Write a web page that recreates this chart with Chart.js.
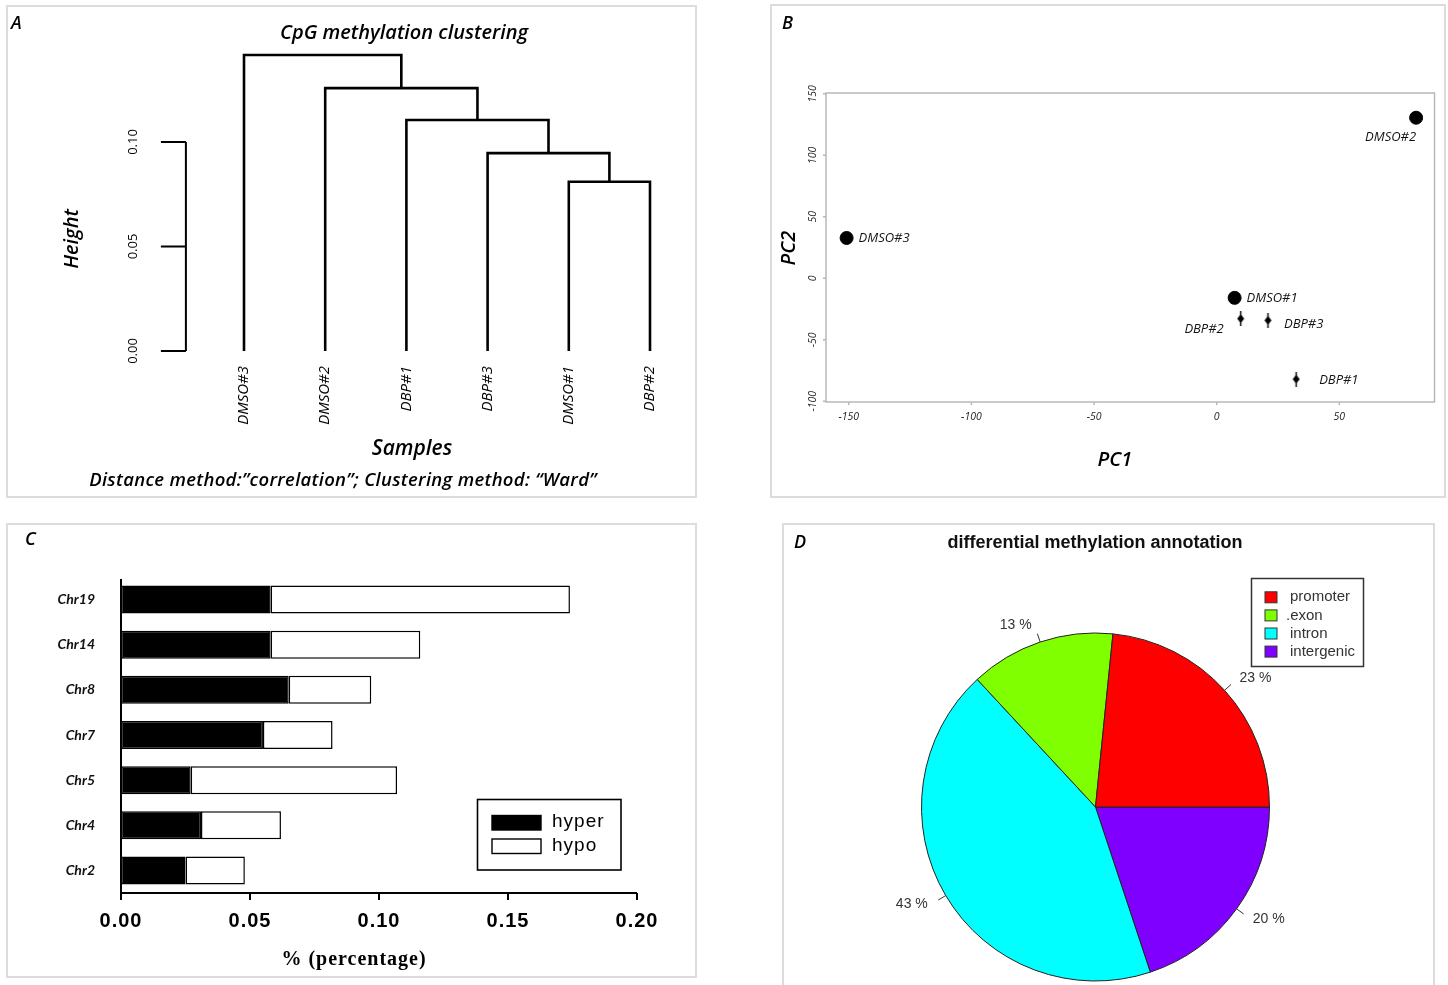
<!DOCTYPE html>
<html>
<head>
<meta charset="utf-8">
<title>DNA methylation figure</title>
<script src="https://cdn.jsdelivr.net/npm/chart.js@4.4.0/dist/chart.umd.min.js"></script>
<style>
  body { margin: 0; background: #fff; width: 1448px; height: 985px; overflow: hidden; position: relative; font-family: "Open Sans", Lato, sans-serif; }
  .panel { position: absolute; border: 2px solid #dcdcdc; box-sizing: border-box; }
  .letter { position: absolute; font-style: italic; font-weight: 600; font-size: 18px; line-height: 1; }
  canvas { position: absolute; }
</style>
</head>
<body>
<div class="panel" style="left:6px;top:5px;width:691px;height:493px"></div>
<div class="panel" style="left:770px;top:4px;width:676px;height:494px"></div>
<div class="panel" style="left:6px;top:523px;width:691px;height:455px"></div>
<div class="panel" style="left:782px;top:523px;width:653px;height:475px"></div>

<canvas id="dendro" width="700" height="500" style="left:0;top:0"></canvas>
<canvas id="pca" width="688" height="500" style="left:760px;top:0"></canvas>
<canvas id="chrBars" width="700" height="470" style="left:0;top:515px"></canvas>
<canvas id="annoPie" width="673" height="470" style="left:775px;top:515px"></canvas>

<div class="letter" style="left:11px;top:13px">A</div>
<div class="letter" style="left:782px;top:13px">B</div>
<div class="letter" style="left:25px;top:529px">C</div>
<div class="letter" style="left:794px;top:532px">D</div>

<script>
// ---------- A: clustering (hclust style merges, negative = leaf) ----------
const samples = ['DMSO#3', 'DMSO#2', 'DBP#1', 'DBP#3', 'DMSO#1', 'DBP#2'];
const mergePairs = [[-5, -6], [-4, 1], [-3, 2], [-2, 3], [-1, 4]];
const mergeHeights = [0.081, 0.0947, 0.1105, 0.1258, 0.1416];
const heightTicks = [0, 0.05, 0.10];

// ---------- B: PCA ----------
const pcaSamples = ['DMSO#1', 'DMSO#2', 'DMSO#3', 'DBP#1', 'DBP#2', 'DBP#3'];
const pc1 = [7.3, 81.3, -150.9, 32.4, 9.8, 20.9];
const pc2 = [-15.9, 130.6, 32.8, -82.0, -32.8, -34.2];
const pc1Ticks = [-150, -100, -50, 0, 50];
const pc2Ticks = [-100, -50, 0, 50, 100, 150];

// ---------- C: chromosomes ----------
const chromosomes = ['Chr19', 'Chr14', 'Chr8', 'Chr7', 'Chr5', 'Chr4', 'Chr2'];
const hyper = [0.058, 0.058, 0.065, 0.055, 0.027, 0.031, 0.025];
const hypo = [0.116, 0.058, 0.032, 0.027, 0.080, 0.031, 0.023];
const pctTicks = [0, 0.05, 0.10, 0.15, 0.20];

// ---------- D: annotation ----------
const regions = ['promoter', '.exon', 'intron', 'intergenic'];
const regionShare = [23.4, 13.5, 43.2, 19.9];
const regionLabels = ['23 %', '13 %', '43 %', '20 %'];

const regionColors = ['#ff0000', '#80ff00', '#00ffff', '#8000ff'];
const CAL = '"Open Sans", Lato, sans-serif';
const LATO = 'Lato, "Open Sans", sans-serif';
const ARIAL = '"Liberation Sans", Arial, sans-serif';

function drawText(ctx, s, x, y, font, o = {}) {
    ctx.save();
    ctx.translate(x, y);
    if (o.rot) ctx.rotate(o.rot);
    ctx.font = font;
    ctx.fillStyle = o.color || '#000';
    ctx.textAlign = o.align || 'center';
    ctx.textBaseline = o.baseline || 'middle';
    if (o.spacing) ctx.letterSpacing = o.spacing;
    ctx.fillText(s, 0, 0);
    ctx.restore();
}

// ===== A =====
const nodes = [];
const childPos = c => c < 0 ? { x: -c, h: 0 } : nodes[c - 1];
const dendroSets = mergePairs.map((pair, i) => {
    const a = childPos(pair[0]), b = childPos(pair[1]), h = mergeHeights[i];
    nodes.push({ x: (a.x + b.x) / 2, h });
    return {
        data: [{ x: a.x, y: a.h }, { x: a.x, y: h }, { x: b.x, y: h }, { x: b.x, y: b.h }],
        showLine: true, borderColor: '#000', borderWidth: 2.6, pointRadius: 0, tension: 0
    };
});

const dendroAxis = {
    id: 'dendroAxis',
    afterDraw(chart) {
        const { ctx, chartArea, scales: { x, y } } = chart;
        const ax = chartArea.left - 17.5;
        ctx.save();
        ctx.strokeStyle = '#000';
        ctx.lineWidth = 2;
        ctx.beginPath();
        ctx.moveTo(ax, y.getPixelForValue(heightTicks[0]));
        ctx.lineTo(ax, y.getPixelForValue(heightTicks[heightTicks.length - 1]));
        heightTicks.forEach(v => {
            const py = y.getPixelForValue(v);
            ctx.moveTo(ax, py); ctx.lineTo(ax - 25, py);
        });
        ctx.stroke();
        ctx.restore();
        heightTicks.forEach(v => drawText(ctx, v.toFixed(2), ax - 53, y.getPixelForValue(v), '13px ' + CAL, { rot: -Math.PI / 2 }));
        samples.forEach((s, i) => drawText(ctx, s, x.getPixelForValue(i + 1), y.getPixelForValue(0) + 15, 'italic 15px ' + CAL, { rot: -Math.PI / 2, align: 'right' }));
        drawText(ctx, 'CpG methylation clustering', 404, 33, 'italic 600 20px ' + CAL);
        drawText(ctx, 'Height', 72, 239, 'italic 600 20px ' + CAL, { rot: -Math.PI / 2 });
        drawText(ctx, 'Samples', 412, 449, 'italic 600 21px ' + CAL);
        drawText(ctx, 'Distance method:\u201dcorrelation\u201d; Clustering method: \u201cWard\u201d', 343, 481, 'italic 600 18.5px ' + CAL, { spacing: '0.3px' });
    }
};

new Chart(document.getElementById('dendro'), {
    type: 'scatter',
    data: { datasets: dendroSets },
    options: {
        responsive: false, animation: false,
        layout: { padding: { left: 203.4, right: 9.4, top: 37.5, bottom: 149 } },
        plugins: { legend: { display: false }, tooltip: { enabled: false } },
        scales: {
            x: { type: 'linear', min: 0.5, max: 6.5, display: false },
            y: { type: 'linear', min: 0, max: 0.15, display: false }
        }
    },
    plugins: [dendroAxis]
});

// ===== B =====
const dbpMarker = (() => {
    const c = document.createElement('canvas');
    c.width = 9; c.height = 15;
    const g = c.getContext('2d');
    g.fillStyle = '#000';
    g.beginPath();
    g.moveTo(4.5, 3); g.lineTo(8, 7.5); g.lineTo(4.5, 12); g.lineTo(1, 7.5);
    g.closePath(); g.fill();
    g.fillRect(3.8, 0, 1.4, 15);
    return c;
})();

const pcaGroup = prefix => pcaSamples
    .map((s, i) => ({ x: pc1[i], y: pc2[i], name: s }))
    .filter(p => p.name.startsWith(prefix));

// where each sample name sits relative to its point
const pcaLabelPlace = {
    'DMSO#2': [0, 20, 'right'], 'DMSO#3': [12, 0, 'left'], 'DMSO#1': [12, 0, 'left'],
    'DBP#2': [-17, 11, 'right'], 'DBP#3': [16, 4, 'left'], 'DBP#1': [23, 1, 'left']
};

const pcaFrame = {
    id: 'pcaFrame',
    afterDraw(chart) {
        const { ctx, chartArea: ca, scales: { x, y } } = chart;
        ctx.save();
        ctx.strokeStyle = '#b8b8b8';
        ctx.lineWidth = 1.5;
        ctx.strokeRect(ca.left, ca.top, ca.right - ca.left, ca.bottom - ca.top);
        ctx.beginPath();
        pc1Ticks.forEach(v => { const px = x.getPixelForValue(v); ctx.moveTo(px, ca.bottom); ctx.lineTo(px, ca.bottom + 3); });
        pc2Ticks.forEach(v => { const py = y.getPixelForValue(v); ctx.moveTo(ca.left, py); ctx.lineTo(ca.left - 3, py); });
        ctx.stroke();
        ctx.restore();
        pc1Ticks.forEach(v => drawText(ctx, String(v), x.getPixelForValue(v), ca.bottom + 15, 'italic 10.5px ' + CAL, { color: '#222' }));
        pc2Ticks.forEach(v => drawText(ctx, String(v), ca.left - 13, y.getPixelForValue(v), 'italic 10.5px ' + CAL, { color: '#222', rot: -Math.PI / 2 }));
        chart.data.datasets.forEach((ds, d) => {
            chart.getDatasetMeta(d).data.forEach((pt, j) => {
                const name = ds.data[j].name;
                const [dx, dy, al] = pcaLabelPlace[name];
                drawText(ctx, name, pt.x + dx, pt.y + dy, 'italic 13px ' + CAL, { align: al, color: '#111' });
            });
        });
        drawText(ctx, 'PC2', 29, 248, 'italic 600 20px ' + CAL, { rot: -Math.PI / 2 });
        drawText(ctx, 'PC1', 355, 460, 'italic 600 20px ' + CAL);
    }
};

new Chart(document.getElementById('pca'), {
    type: 'scatter',
    data: {
        datasets: [
            { label: 'DMSO', data: pcaGroup('DMSO'), pointStyle: 'circle', pointRadius: 6.5, backgroundColor: '#000', borderColor: '#000' },
            { label: 'DBP', data: pcaGroup('DBP'), pointStyle: dbpMarker, pointRadius: 6, backgroundColor: '#000', borderColor: '#000' }
        ]
    },
    options: {
        responsive: false, animation: false,
        layout: { padding: { left: 66, right: 13.5, top: 93, bottom: 98 } },
        plugins: { legend: { display: false }, tooltip: { enabled: false } },
        scales: {
            x: { type: 'linear', min: -159.3, max: 88.8, display: false },
            y: { type: 'linear', min: -100.6, max: 150.7, display: false }
        }
    },
    plugins: [pcaFrame]
});

// ===== C =====
const barAxes = {
    id: 'barAxes',
    afterDraw(chart) {
        const { ctx, chartArea: ca, scales: { x, y } } = chart;
        const x0 = x.getPixelForValue(pctTicks[0]);
        const x1 = x.getPixelForValue(pctTicks[pctTicks.length - 1]);
        ctx.save();
        ctx.strokeStyle = '#000';
        ctx.lineWidth = 2;
        ctx.beginPath();
        ctx.moveTo(x0, ca.top + 2); ctx.lineTo(x0, ca.bottom);
        ctx.moveTo(x0, ca.bottom); ctx.lineTo(x1, ca.bottom);
        pctTicks.forEach(v => { const px = x.getPixelForValue(v); ctx.moveTo(px, ca.bottom); ctx.lineTo(px, ca.bottom + 7); });
        ctx.stroke();
        ctx.restore();
        pctTicks.forEach(v => drawText(ctx, v.toFixed(2), x.getPixelForValue(v), ca.bottom + 28, 'bold 20px ' + ARIAL, { spacing: '1px' }));
        chromosomes.forEach((c, i) => drawText(ctx, c, 95, y.getPixelForValue(i), 'italic bold 14px ' + LATO, { align: 'right', color: '#111' }));
        drawText(ctx, '% (percentage)', 354, 445, 'bold 20px "Liberation Serif", serif', { spacing: '1px' });

        // legend box
        ctx.save();
        ctx.strokeStyle = '#000';
        ctx.lineWidth = 1.6;
        ctx.strokeRect(477.5, 284.5, 143.5, 70.5);
        chart.data.datasets.forEach((ds, i) => {
            const top = 300.5 + i * 23.5;
            ctx.fillStyle = ds.backgroundColor;
            ctx.fillRect(492, top, 49, 14.5);
            ctx.lineWidth = 1.4;
            ctx.strokeRect(492, top, 49, 14.5);
            drawText(ctx, ds.label, 552, top + 6.5, '19px ' + ARIAL, { align: 'left', spacing: '1px' });
        });
        ctx.restore();
    }
};

new Chart(document.getElementById('chrBars'), {
    type: 'bar',
    data: {
        labels: chromosomes,
        datasets: [
            { label: 'hyper', data: hyper, backgroundColor: '#000', borderColor: '#000', borderWidth: 1.5, borderSkipped: false },
            { label: 'hypo', data: hypo, backgroundColor: '#fff', borderColor: '#000', borderWidth: 1.5, borderSkipped: false }
        ]
    },
    options: {
        indexAxis: 'y',
        responsive: false, animation: false,
        barPercentage: 0.62, categoryPercentage: 1,
        layout: { padding: { left: 121, right: 63, top: 62, bottom: 92 } },
        plugins: { legend: { display: false }, tooltip: { enabled: false } },
        scales: {
            x: { type: 'linear', min: 0, max: 0.2, stacked: true, display: false },
            y: { type: 'category', stacked: true, display: false }
        }
    },
    plugins: [barAxes]
});

// ===== D =====
// R draws the pie counter-clockwise from 3 o'clock; Chart.js goes clockwise, so feed it reversed
const pieOrder = regions.map((r, i) => i).reverse();

const pieDecor = {
    id: 'pieDecor',
    afterDraw(chart) {
        const { ctx } = chart;
        drawText(ctx, 'differential methylation annotation', 320, 28, 'bold 18px ' + ARIAL, { color: '#111' });

        chart.getDatasetMeta(0).data.forEach((arc, j) => {
            const i = pieOrder[j];
            const a = (arc.startAngle + arc.endAngle) / 2;
            const r = arc.outerRadius;
            const c = Math.cos(a), s = Math.sin(a);
            ctx.save();
            ctx.strokeStyle = '#333';
            ctx.lineWidth = 1;
            ctx.beginPath();
            ctx.moveTo(arc.x + c * r, arc.y + s * r);
            ctx.lineTo(arc.x + c * r * 1.05, arc.y + s * r * 1.05);
            ctx.stroke();
            ctx.restore();
            const lx = arc.x + c * r * 1.1 + (c >= 0 ? 2 : -3);
            drawText(ctx, regionLabels[i], lx, arc.y + s * r * 1.1, '14px ' + ARIAL, { align: c >= 0 ? 'left' : 'right', color: '#333' });
        });

        ctx.save();
        ctx.strokeStyle = '#333';
        ctx.lineWidth = 1.5;
        ctx.strokeRect(476.5, 63.5, 112, 88);
        regions.forEach((name, i) => {
            const cy = 82.3 + i * 18.1;
            ctx.fillStyle = regionColors[i];
            ctx.fillRect(490, cy - 5.5, 12, 11);
            ctx.lineWidth = 1;
            ctx.strokeRect(490, cy - 5.5, 12, 11);
            drawText(ctx, name, name.startsWith('.') ? 511 : 515, cy, '15px ' + ARIAL, { align: 'left', color: '#333' });
        });
        ctx.restore();
    }
};

new Chart(document.getElementById('annoPie'), {
    type: 'pie',
    data: {
        labels: pieOrder.map(i => regions[i]),
        datasets: [{
            data: pieOrder.map(i => regionShare[i]),
            backgroundColor: pieOrder.map(i => regionColors[i]),
            borderColor: '#222',
            borderWidth: 1
        }]
    },
    options: {
        responsive: false, animation: false,
        rotation: 90,
        layout: { padding: { left: 146, right: 178, top: 117.5, bottom: 3.5 } },
        plugins: { legend: { display: false }, tooltip: { enabled: false } }
    },
    plugins: [pieDecor]
});
</script>
</body>
</html>
